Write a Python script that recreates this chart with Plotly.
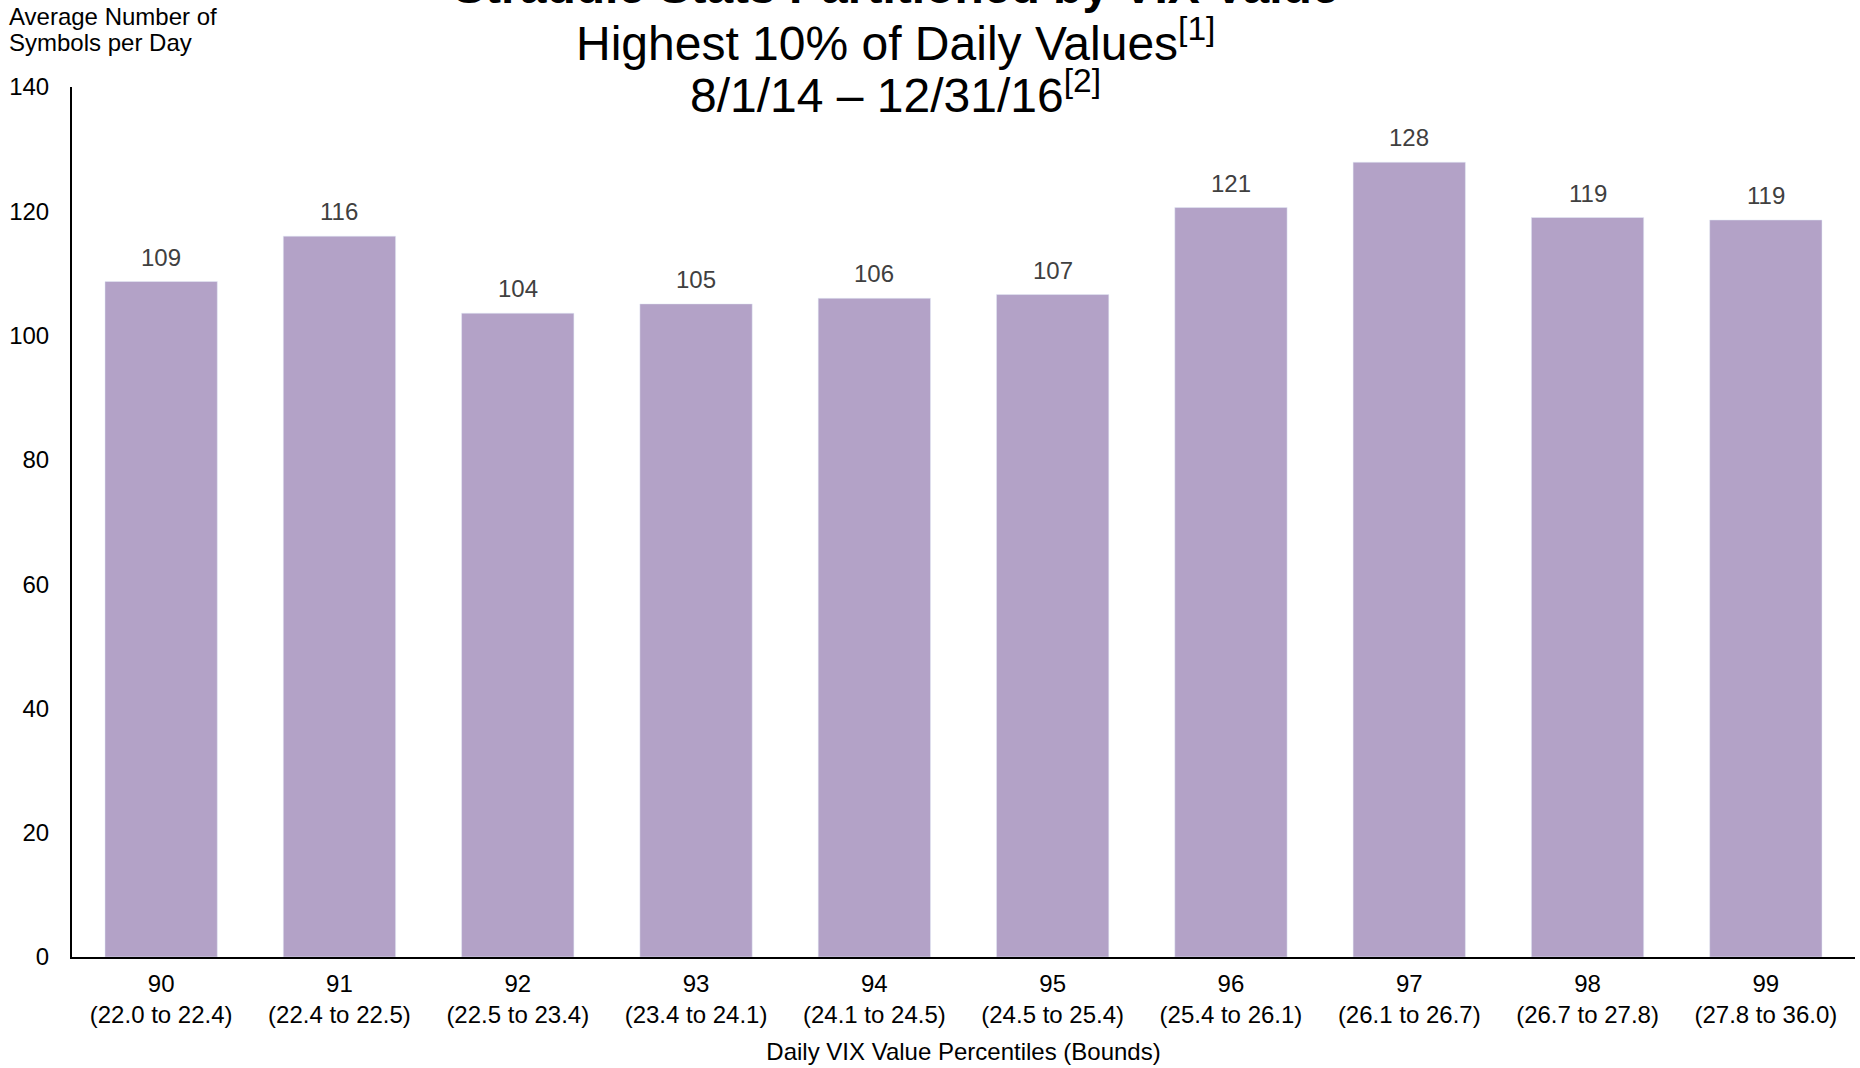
import plotly.graph_objects as go

# data
percentiles = ["90", "91", "92", "93", "94", "95", "96", "97", "98", "99"]
bounds = ["22.0 to 22.4", "22.4 to 22.5", "22.5 to 23.4", "23.4 to 24.1", "24.1 to 24.5",
          "24.5 to 25.4", "25.4 to 26.1", "26.1 to 26.7", "26.7 to 27.8", "27.8 to 36.0"]
avg_symbols = [108.7, 116.0, 103.6, 105.1, 106.0, 106.6, 120.6, 127.9, 119.0, 118.6]

tick_labels = [f"{p}<br>({b})" for p, b in zip(percentiles, bounds)]

FONT = "Liberation Sans, Arial, sans-serif"

fig = go.Figure()
fig.add_trace(go.Bar(
    x=tick_labels,
    y=avg_symbols,
    marker_color="#B3A2C7",
    hoverinfo="x+y",
))

# value labels above each bar
for lab, v in zip(tick_labels, avg_symbols):
    fig.add_annotation(x=lab, y=v, text=f"{v:.0f}", showarrow=False,
                       yanchor="bottom", yshift=9,
                       font=dict(size=24, color="#404040"))

fig.update_layout(
    width=1860,
    height=1068,
    margin=dict(l=72, r=5, t=87, b=111),
    plot_bgcolor="white",
    paper_bgcolor="white",
    font=dict(family=FONT, size=24, color="black"),
    bargap=0.37,
    showlegend=False,
)

fig.update_yaxes(
    range=[0, 140],
    dtick=20,
    showgrid=False,
    zeroline=False,
    showline=True,
    linecolor="black",
    linewidth=2,
    ticks="",
    ticklabelstandoff=16,
    tickfont=dict(size=24, color="black"),
)
fig.update_xaxes(
    showgrid=False,
    showline=True,
    linecolor="black",
    linewidth=2,
    ticks="",
    ticklabelstandoff=4,
    tickfont=dict(size=24, color="black"),
    title=dict(text="Daily VIX Value Percentiles (Bounds)", standoff=16,
               font=dict(size=24, color="black")),
)

# title lines, the first one runs off the top of the page as in the source
title_x = 0.462
fig.add_annotation(text="<b>Straddle Stats Partitioned by VIX Value</b>", xref="paper", yref="paper",
                   x=title_x, y=1.115, xanchor="center", yanchor="middle", showarrow=False,
                   font=dict(size=48, color="black"))
fig.add_annotation(text="Highest 10% of Daily Values<sup>[1]</sup>", xref="paper", yref="paper",
                   x=title_x, y=1.054, xanchor="center", yanchor="middle", showarrow=False,
                   font=dict(size=48, color="black"))
fig.add_annotation(text="8/1/14 – 12/31/16<sup>[2]</sup>", xref="paper", yref="paper",
                   x=title_x, y=0.994, xanchor="center", yanchor="middle", showarrow=False,
                   font=dict(size=48, color="black"))

# y axis title in the top left corner, one annotation per line
fig.add_annotation(text="Average Number of", xref="paper", yref="paper",
                   x=-0.0365, y=1.081, xanchor="left", yanchor="middle",
                   showarrow=False, font=dict(size=24, color="black"))
fig.add_annotation(text="Symbols per Day", xref="paper", yref="paper",
                   x=-0.0365, y=1.051, xanchor="left", yanchor="middle",
                   showarrow=False, font=dict(size=24, color="black"))

# drop the default body margin so the figure fills the window exactly
fig.write_html("out.html", config={"displayModeBar": False},
               post_script="document.body.style.margin='0';")
